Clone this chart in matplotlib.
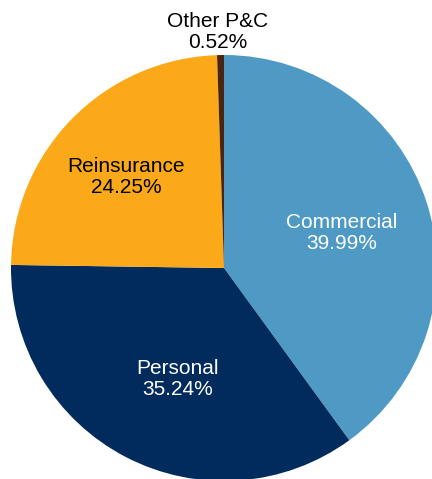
import matplotlib.pyplot as plt

plt.rcParams['font.family'] = ['Liberation Sans', 'DejaVu Sans']

segments = ["Commercial", "Personal", "Reinsurance", "Other P&C"]
shares = [39.99, 35.24, 24.25, 0.52]
colors = ["#4E9AC4", "#002B5C", "#FBA919", "#4A2511"]
text_colors = ["white", "white", "black", "black"]
label_pos = [(0.552, 0.164), (-0.216, -0.521), (-0.460, 0.427), (-0.028, 1.108)]

W, H = 432, 479
cx, cy, r = 224, 268, 213

fig = plt.figure(figsize=(W / 100, H / 100), dpi=100)
ax = fig.add_axes([0, 0, 1, 1])
ax.pie(shares, colors=colors, startangle=90, counterclock=False,
       wedgeprops=dict(linewidth=0))
ax.set_xlim(-cx / r, (W - cx) / r)
ax.set_ylim(-(H - cy) / r, cy / r)
ax.set_aspect("auto")
ax.axis("off")

for name, val, tc, (x, y) in zip(segments, shares, text_colors, label_pos):
    ax.text(x, y, f"{name}\n{val:.2f}%", ha="center", va="center",
            fontsize=15, color=tc, linespacing=1.1)

fig.savefig("out.png", dpi=100, facecolor="white")
